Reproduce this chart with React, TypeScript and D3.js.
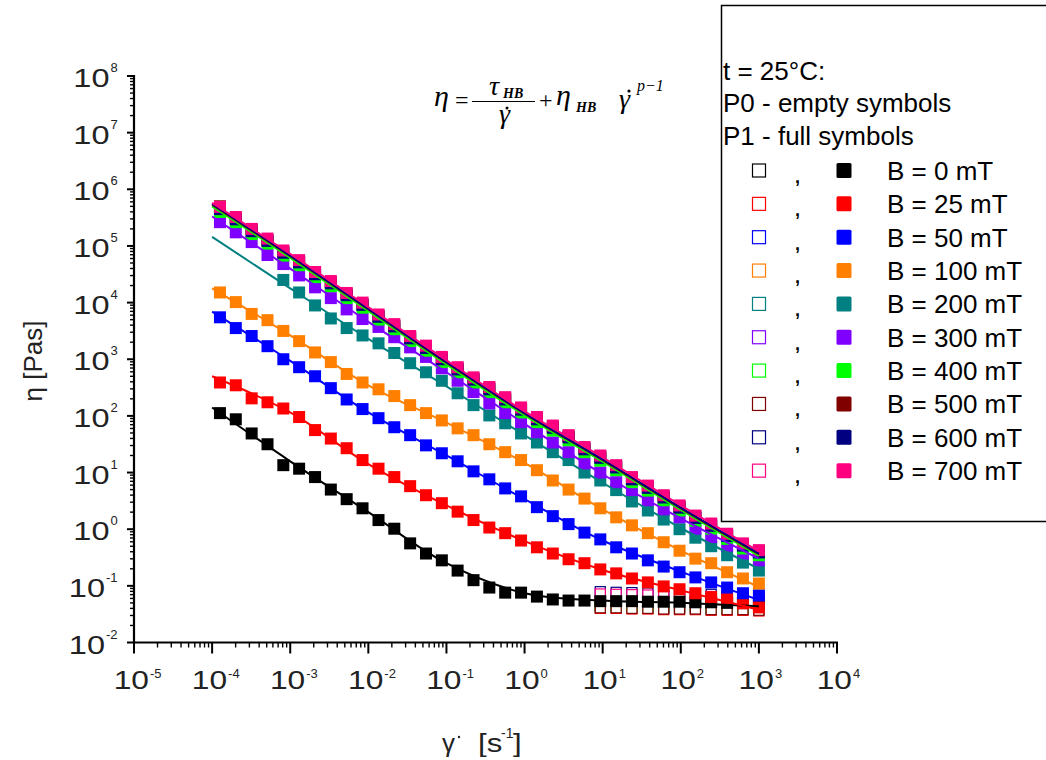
import React from 'react';
import * as d3 from 'd3';

// ---------- data ----------
const shearRate = [1.26e-4, 2.01e-4, 3.21e-4, 5.12e-4, 8.16e-4, 1.30e-3, 2.08e-3, 3.31e-3, 5.28e-3, 8.43e-3,
  1.35e-2, 2.15e-2, 3.43e-2, 5.47e-2, 8.73e-2, 0.139, 0.222, 0.354, 0.565, 0.902,
  1.44, 2.30, 3.66, 5.85, 9.33, 14.9, 23.7, 37.9, 60.4, 96.4, 154, 245, 392, 625, 1000];
const p0Rate = [9.33, 14.9, 23.7, 37.9, 60.4, 96.4, 154, 245, 392, 625, 1000];
const fitRate = [1e-4, 1e-3, 1e-2, 1e-1, 1, 10, 100, 1000];

const fieldLabels = ['B = 0 mT', 'B = 25 mT', 'B = 50 mT', 'B = 100 mT', 'B = 200 mT', 'B = 300 mT', 'B = 400 mT', 'B = 500 mT', 'B = 600 mT', 'B = 700 mT'];
const fieldColors = ['#000000', '#ff0000', '#0000ff', '#ff8000', '#008080', '#8000ff', '#00ff00', '#800000', '#000080', '#ff0080'];

// P1 (full symbols) viscosity [Pa s]
const etaP1_B0 = [112, 87.1, 49.0, 31.6, 13.5, 11.7, 8.32, 5.01, 3.39, 2.34, 1.45, 1.02, 0.562, 0.372, 0.282, 0.186, 0.126, 0.0933, 0.0759, 0.0759,
  0.0646, 0.0575, 0.0550, 0.0550, 0.0537, 0.0537, 0.0537, 0.0525, 0.0525, 0.0525, 0.0513, 0.0513, 0.0501, 0.0501, 0.0501];
const etaP1_B25 = [389, 347, 204, 174, 135, 95.5, 56.2, 39.8, 26.9, 16.6, 11.7, 8.32, 5.75, 3.98, 2.88, 2.04, 1.45, 1.07, 0.851, 0.631,
  0.479, 0.372, 0.295, 0.251, 0.195, 0.166, 0.135, 0.115, 0.0977, 0.0871, 0.0741, 0.0631, 0.0603, 0.0490, 0.0417];
const etaP1_B50 = [5500, 3550, 2570, 1700, 1000, 724, 501, 309, 195, 132, 91.2, 63.1, 45.7, 30.2, 21.9, 15.8, 10.5, 7.59, 5.25, 3.80,
  2.45, 1.70, 1.23, 0.871, 0.661, 0.479, 0.372, 0.282, 0.219, 0.174, 0.141, 0.115, 0.0933, 0.0741, 0.0676];
const etaP1_B100 = [15100, 10200, 6310, 4900, 3160, 2090, 1320, 891, 550, 389, 295, 224, 155, 112, 83.2, 60.3, 45.7, 31.6, 22.9, 16.6,
  11.0, 7.24, 5.01, 3.47, 2.34, 1.62, 1.17, 0.851, 0.589, 0.417, 0.302, 0.251, 0.174, 0.135, 0.110];
const etaP1_B200 = [null, null, null, null, 25100, 15100, 8910, 5250, 3550, 2630, 1910, 1290, 851, 589, 417, 251, 155, 102, 74.1, 49.0,
  33.9, 22.9, 16.6, 10.0, 7.24, 4.90, 3.09, 2.14, 1.48, 1.00, 0.708, 0.501, 0.347, 0.257, 0.186];
const etaP1_B300 = [263000, 174000, 117000, 69200, 47900, 30200, 18600, 12000, 7590, 5130, 3720, 2450, 1620, 1100, 692, 417, 263, 166, 112, 77.6,
  51.3, 33.9, 22.9, 14.5, 10.0, 6.76, 4.90, 3.24, 2.24, 1.62, 1.02, 0.724, 0.513, 0.372, 0.282];
const etaP1_B400 = [398000, 263000, 162000, 110000, 67600, 45700, 28200, 19500, 12000, 8130, 5010, 3390, 2090, 1410, 891, 589, 389, 263, 174, 115,
  77.6, 55.0, 37.2, 22.9, 16.2, 11.0, 6.76, 4.79, 3.24, 2.14, 1.41, 1.02, 0.676, 0.457, 0.347];
const etaP1_B500 = [501000, 316000, 195000, 126000, 79400, 52500, 33100, 22400, 14100, 9330, 5890, 3890, 2450, 1620, 1050, 692, 457, 309, 204, 135,
  91.2, 64.6, 43.7, 26.9, 19.1, 12.9, 7.94, 5.62, 3.80, 2.51, 1.66, 1.20, 0.794, 0.537, 0.407];
const etaP1_B600 = [447000, 295000, 182000, 123000, 75900, 51300, 31600, 21900, 13500, 9120, 5620, 3800, 2340, 1580, 1000, 661, 437, 295, 195, 129,
  87.1, 61.7, 41.7, 25.7, 18.2, 12.3, 7.59, 5.37, 3.63, 2.40, 1.58, 1.15, 0.759, 0.513, 0.389];
const etaP1_B700 = [490000, 324000, 200000, 135000, 83200, 56200, 34700, 24000, 14800, 10000, 6170, 4170, 2570, 1740, 1100, 724, 479, 324, 214, 141,
  95.5, 67.6, 45.7, 28.2, 20.0, 13.5, 8.32, 5.89, 3.98, 2.63, 1.74, 1.26, 0.832, 0.562, 0.427];

// P0 (empty symbols) viscosity [Pa s]
const etaP0_B0 = [0.042, 0.041, 0.041, 0.040, 0.040, 0.040, 0.039, 0.039, 0.039, 0.038, 0.038];
const etaP0_B25 = [0.040, 0.040, 0.039, 0.039, 0.038, 0.038, 0.038, 0.037, 0.037, 0.037, 0.036];
const etaP0_B50 = [0.044, 0.043, 0.043, 0.042, 0.042, 0.041, 0.041, 0.040, 0.040, 0.040, 0.039];
const etaP0_B100 = [0.043, 0.042, 0.042, 0.041, 0.041, 0.040, 0.040, 0.040, 0.039, 0.039, 0.039];
const etaP0_B200 = [0.045, 0.044, 0.044, 0.043, 0.043, 0.042, 0.042, 0.041, 0.041, 0.041, 0.040];
const etaP0_B300 = [0.074, 0.072, 0.071, 0.070, 0.069, 0.068, 0.067, 0.066, 0.065, 0.064, 0.063];
const etaP0_B400 = [0.046, 0.045, 0.045, 0.044, 0.044, 0.043, 0.043, 0.042, 0.042, 0.042, 0.041];
const etaP0_B500 = [0.041, 0.041, 0.040, 0.040, 0.039, 0.039, 0.039, 0.038, 0.038, 0.038, 0.037];
const etaP0_B600 = [0.079, 0.077, 0.076, 0.075, 0.074, 0.073, 0.072, 0.071, 0.070, 0.069, 0.068];
const etaP0_B700 = [0.072, 0.071, 0.070, 0.069, 0.068, 0.067, 0.066, 0.065, 0.064, 0.063, 0.062];

// Herschel–Bulkley fit curves, read at each decade of shear rate
const fit_B0 = [141, 15.8, 2.0, 0.251, 0.0741, 0.0550, 0.0501, 0.0437];
const fit_B25 = [501, 115, 14.1, 2.63, 0.617, 0.191, 0.0832, 0.0380];
const fit_B50 = [6920, 933, 115, 20.0, 3.39, 0.631, 0.178, 0.0562];
const fit_B100 = [17800, 2630, 347, 75.9, 14.8, 2.24, 0.417, 0.0955];
const fit_B200 = [145000, 17800, 2290, 331, 45.7, 6.61, 1.05, 0.200];
const fit_B300 = [331000, 39800, 4570, 589, 72.4, 9.33, 1.55, 0.302];
const fit_B400 = [501000, 61700, 7080, 813, 102, 15.5, 2.19, 0.339];
const fit_B500 = [537000, 66100, 7590, 871, 110, 16.6, 2.34, 0.363];
const fit_B600 = [550000, 67600, 7760, 891, 112, 17.0, 2.40, 0.372];
const fit_B700 = [575000, 72400, 8320, 955, 120, 18.6, 2.63, 0.407];

const yTickExps = [-2, -1, 0, 1, 2, 3, 4, 5, 6, 7, 8];
const xTickExps = [-5, -4, -3, -2, -1, 0, 1, 2, 3, 4];

const p1Sets = [etaP1_B0, etaP1_B25, etaP1_B50, etaP1_B100, etaP1_B200, etaP1_B300, etaP1_B400, etaP1_B500, etaP1_B600, etaP1_B700];
const p0Sets = [etaP0_B0, etaP0_B25, etaP0_B50, etaP0_B100, etaP0_B200, etaP0_B300, etaP0_B400, etaP0_B500, etaP0_B600, etaP0_B700];
const fitSets = [fit_B0, fit_B25, fit_B50, fit_B100, fit_B200, fit_B300, fit_B400, fit_B500, fit_B600, fit_B700];

const series = fieldLabels.map((label, i) => ({
  label,
  color: fieldColors[i],
  p1: shearRate.map((g, k) => [g, p1Sets[i][k]] as [number, number | null]).filter((d) => d[1] != null) as [number, number][],
  p0: p0Rate.map((g, k) => [g, p0Sets[i][k]] as [number, number]),
  fit: fitRate.map((g, k) => [g, fitSets[i][k]] as [number, number]),
}));

// ---------- layout ----------
const W = 1046;
const H = 760;
const X0 = 134;
const X1 = 837;
const Y0 = 642.5;
const Y1 = 76;

const xs = d3.scaleLog().domain([1e-5, 1e4]).range([X0, X1]);
const ys = d3.scaleLog().domain([1e-2, 1e8]).range([Y0, Y1]);

const sans = '"Liberation Sans", Arial, sans-serif';
const serif = '"Liberation Serif", "Times New Roman", serif';

function supStr(e: number) {
  return e < 0 ? '-' + Math.abs(e) : String(e);
}
function supWidth(s: string) {
  let w = 0;
  for (const c of s) w += c === '-' ? 4.5 : 7.5;
  return w;
}

export default function App() {
  const line = d3
    .line<[number, number]>()
    .x((d) => xs(d[0]))
    .y((d) => ys(d[1]))
    .curve(d3.curveCatmullRom.alpha(0.5));

  const minorX: number[] = [];
  for (let e = -5; e < 4; e++) for (let m = 2; m <= 9; m++) minorX.push(m * Math.pow(10, e));
  const minorY: number[] = [];
  for (let e = -2; e < 8; e++) for (let m = 2; m <= 9; m++) minorY.push(m * Math.pow(10, e));

  const MS = 12;
  const ES = 10;

  return (
    <svg width={W} height={H} style={{ position: 'absolute', left: 0, top: 0, background: '#fff' }} fontFamily={sans}>
      <rect x={0} y={0} width={W} height={H} fill="#fff" />

      {/* legend box */}
      <rect x={721.5} y={5.5} width={340} height={516} fill="none" stroke="#000" strokeWidth={1.5} />
      <text x={723} y={80} fontSize={26}>t = 25°C:</text>
      <text x={723} y={112} fontSize={26}>P0 - empty symbols</text>
      <text x={723} y={145} fontSize={26}>P1 - full symbols</text>
      {series.map((s, i) => {
        const by = 180 + i * 33.35;
        return (
          <g key={'lg' + i}>
            <rect x={759 - 6.5} y={by - 9.5 - 6.5} width={13} height={13} fill="#fff" stroke={s.color} strokeWidth={1.2} />
            <text x={795} y={by + 3} fontSize={18} fontWeight="bold">,</text>
            <rect x={844 - 7.5} y={by - 9.5 - 7.5} width={15} height={15} rx={1.5} fill={s.color} />
            <text x={887} y={by} fontSize={26}>{s.label}</text>
          </g>
        );
      })}

      {/* formula */}
      <g fontFamily={serif} fontStyle="italic" fill="#000">
        <text x={434} y={106} fontSize={30}>η</text>
        <text x={455} y={108} fontSize={24} fontStyle="normal">=</text>
        <line x1={472} x2={535} y1={101.5} y2={101.5} stroke="#000" strokeWidth={1.2} />
        <text x={489} y={95} fontSize={28}>τ</text>
        <text x={503} y={98} fontSize={14} fontWeight="bold">HB</text>
        <text x={499} y={123} fontSize={28}>γ</text>
        <circle cx={507} cy={108} r={1.5} />
        <text x={539} y={108} fontSize={24} fontStyle="normal">+</text>
        <text x={556} y={105} fontSize={30}>η</text>
        <text x={576} y={112} fontSize={14} fontWeight="bold">HB</text>
        <text x={619} y={108} fontSize={28}>γ</text>
        <circle cx={629} cy={91} r={1.6} />
        <text x={637} y={91} fontSize={16}>p−1</text>
      </g>

      {/* axes */}
      <line x1={X0} x2={X0} y1={Y1 - 1} y2={Y0 + 1} stroke="#000" strokeWidth={2.2} />
      <line x1={X0 - 1} x2={X1 + 1} y1={Y0} y2={Y0} stroke="#000" strokeWidth={2.2} />
      {minorY.map((v, i) => (
        <line key={'my' + i} x1={X0 - 4} x2={X0} y1={ys(v)} y2={ys(v)} stroke="#000" strokeWidth={1.4} />
      ))}
      {yTickExps.map((e) => (
        <line key={'My' + e} x1={X0 - 7} x2={X0} y1={ys(Math.pow(10, e))} y2={ys(Math.pow(10, e))} stroke="#000" strokeWidth={2} />
      ))}
      {minorX.map((v, i) => (
        <line key={'mx' + i} x1={xs(v)} x2={xs(v)} y1={Y0} y2={Y0 + 5} stroke="#000" strokeWidth={1.4} />
      ))}
      {xTickExps.map((e) => (
        <line key={'Mx' + e} x1={xs(Math.pow(10, e))} x2={xs(Math.pow(10, e))} y1={Y0} y2={Y0 + 11} stroke="#000" strokeWidth={2} />
      ))}

      {/* y tick labels */}
      {yTickExps.map((e) => {
        const ty = ys(Math.pow(10, e));
        const s = supStr(e);
        const sw = supWidth(s);
        const R = 118;
        const supX = R - sw;
        return (
          <g key={'yl' + e}>
            <text transform={`translate(${supX - 1},${ty + 11}) scale(1.25,1)`} textAnchor="end" fontSize={26} fill="#222">10</text>
            <text x={supX} y={ty - 4} fontSize={13} fill="#222">{s}</text>
          </g>
        );
      })}

      {/* x tick labels */}
      {xTickExps.map((e) => {
        const tx = xs(Math.pow(10, e));
        const s = supStr(e);
        return (
          <g key={'xl' + e}>
            <text transform={`translate(${tx + 15},689) scale(1.22,1)`} textAnchor="end" fontSize={26} fill="#222">10</text>
            <text x={tx + 16} y={678} fontSize={13} fill="#222">{s}</text>
          </g>
        );
      })}

      {/* axis titles */}
      <text transform="translate(42,361) rotate(-90)" textAnchor="middle" fontSize={26} fill="#222">η  [Pas]</text>
      <g fill="#222">
        <text x={442} y={752} fontSize={26}>γ</text>
        <circle cx={459} cy={737} r={1.2} />
        <text transform="translate(478,752) scale(1.2,1)" fontSize={26}>[s</text>
        <text x={501} y={738} fontSize={14}>-1</text>
        <text transform="translate(513,752) scale(1.2,1)" fontSize={26}>]</text>
      </g>

      {/* P0 empty symbols */}
      {series.map((s, i) => (
        <g key={'p0' + i}>
          {s.p0.map((d, k) => (
            <rect key={k} x={xs(d[0]) - ES / 2} y={ys(d[1]) - ES / 2} width={ES} height={ES} fill="#fff" stroke={s.color} strokeWidth={1.2} />
          ))}
        </g>
      ))}

      {/* P1 full symbols */}
      {series.map((s, i) => (
        <g key={'p1' + i}>
          {s.p1.map((d, k) => (
            <rect key={k} x={xs(d[0]) - MS / 2} y={ys(d[1]) - MS / 2} width={MS} height={MS} fill={s.color} />
          ))}
        </g>
      ))}

      {/* fit lines */}
      {series.map((s, i) => (
        <path key={'fit' + i} d={line(s.fit) || ''} fill="none" stroke={s.color} strokeWidth={2} />
      ))}
    </svg>
  );
}
